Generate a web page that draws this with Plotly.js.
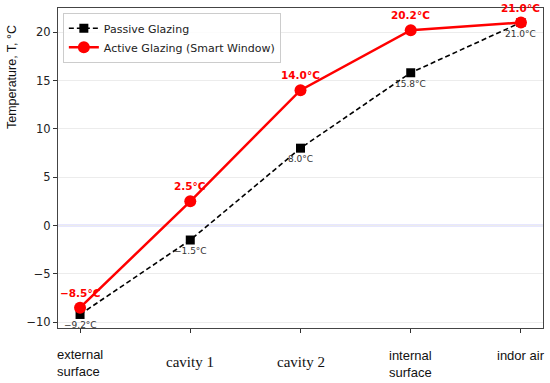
<!DOCTYPE html>
<html>
<head>
<meta charset="utf-8">
<script src="https://cdn.plot.ly/plotly-3.0.1.min.js"></script>
<style>html,body{margin:0;padding:0;background:#fff}#chart{width:550px;height:383px}</style>
</head>
<body>
<div id="chart"></div>
<script>
const categories = [0, 1, 2, 3, 4];
const categoryLabels = ["external<br>surface", "cavity 1", "cavity 2", "internal<br>surface", "indor air"];
const passive = [-9.2, -1.5, 8.0, 15.8, 21.0];
const active = [-8.5, 2.5, 14.0, 20.2, 21.0];
const passiveLabels = ["\u22129.2°C", "\u22121.5°C", "8.0°C", "15.8°C", "21.0°C"];
const activeLabels = ["\u22128.5°C", "2.5°C", "14.0°C", "20.2°C", "21.0°C"];
const yTicks = [-10, -5, 0, 5, 10, 15, 20];
const referenceLevel = 0;

const traces = [
  {x: categories, y: passive, name: "Passive Glazing", mode: "lines+markers",
   line: {color: "black", width: 1.6, dash: "5px,3px"},
   marker: {symbol: "square", size: 9, color: "black"}},
  {x: categories, y: active, name: "Active Glazing (Smart Window)", mode: "lines+markers",
   line: {color: "#ff0000", width: 2.5},
   marker: {symbol: "circle", size: 12, color: "#ff0000"}}
];

const annotations = [];
categories.forEach((c, i) => {
  annotations.push({x: c, y: active[i], xref: "x", yref: "y", text: "<b>" + activeLabels[i] + "</b>",
    showarrow: false, yshift: 15, font: {family: "DejaVu Sans", size: 10.5, color: "#ff0000"}});
  annotations.push({x: c, y: passive[i], xref: "x", yref: "y", text: passiveLabels[i],
    showarrow: false, yshift: -11, font: {family: "DejaVu Sans", size: 9, color: "#333"}});
});
const labelFonts = ["Liberation Sans", "Liberation Serif", "Liberation Serif", "Liberation Sans", "Liberation Sans"];
const labelSizes = [13, 15, 15, 13, 13];
const labelShift = [-35, -34, -34, -36, -27];
categories.forEach((c, i) => {
  annotations.push({x: c, y: 0, xref: "x", yref: "paper", text: categoryLabels[i], showarrow: false,
    align: "left", yanchor: "middle", yshift: labelShift[i],
    font: {family: labelFonts[i], size: labelSizes[i], color: "#111"}});
});
annotations.push({x: -0.095, y: 0.784, xref: "paper", yref: "paper", text: "Temperature, T, °C",
  textangle: -90, showarrow: false, xanchor: "center", yanchor: "middle",
  font: {family: "Liberation Sans", size: 12.5, color: "#111"}});

const layout = {
  width: 550, height: 383,
  margin: {l: 58, r: 7, t: 8, b: 55},
  paper_bgcolor: "white", plot_bgcolor: "white",
  showlegend: true,
  legend: {x: 0.01, y: 0.985, xanchor: "left", yanchor: "top", bgcolor: "rgba(255,255,255,0.85)",
    bordercolor: "#ccc", borderwidth: 1, font: {family: "DejaVu Sans", size: 11, color: "#222"},
    tracegroupgap: 0, itemwidth: 30},
  xaxis: {range: [-0.2, 4.2], tickvals: categories, showticklabels: false, ticks: "outside",
    ticklen: 4, tickcolor: "#333", showgrid: false, zeroline: false,
    showline: true, mirror: true, linecolor: "#444", linewidth: 1},
  yaxis: {range: [-10.6, 22.5], tickvals: yTicks, ticks: "outside", ticklen: 4, tickcolor: "#333",
    tickfont: {family: "DejaVu Sans", size: 11.5, color: "#222"},
    showgrid: true, gridcolor: "#ececec", gridwidth: 1, zeroline: false,
    showline: true, mirror: true, linecolor: "#444", linewidth: 1},
  shapes: [{type: "line", xref: "paper", yref: "y", x0: 0, x1: 1, y0: referenceLevel, y1: referenceLevel,
    layer: "below", line: {color: "#9f9fff", width: 1.3}}],
  annotations: annotations
};
Plotly.newPlot("chart", traces, layout, {displayModeBar: false, staticPlot: true});
</script>
</body>
</html>
